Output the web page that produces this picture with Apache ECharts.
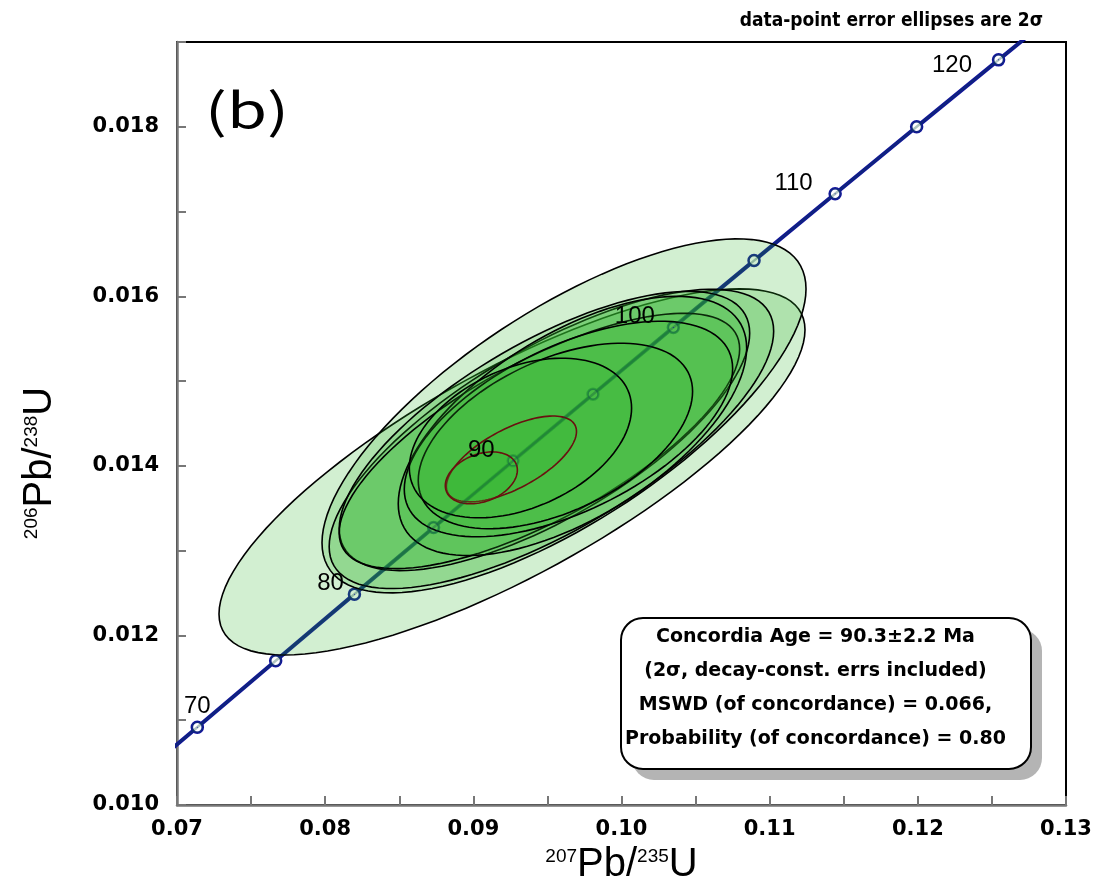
<!DOCTYPE html>
<html><head><meta charset="utf-8">
<script src="https://cdn.jsdelivr.net/npm/echarts@6/dist/echarts.min.js"></script>
<style>html,body{margin:0;padding:0;background:#fff}#c{width:1095px;height:895px}</style>
</head><body><div id="c"></div>
<script>
// Concordia curve points (age in Ma, 207Pb/235U, 206Pb/238U)
const concordiaAges = [65, 70, 75, 80, 85, 90, 95, 100, 105, 110, 115, 120, 125];
const concordiaX = [0.066109, 0.071371, 0.076660, 0.081975, 0.087316, 0.092683, 0.098077, 0.103498, 0.108945, 0.114419, 0.119920, 0.125449, 0.131005];
const concordiaY = [0.0101341, 0.0109179, 0.0117023, 0.0124873, 0.0132729, 0.0140592, 0.0148460, 0.0156334, 0.0164215, 0.0172102, 0.0179994, 0.0187893, 0.0195798];
const markerAges = [70, 75, 80, 85, 90, 95, 100, 105, 110, 115, 120];
const labeledAges = [70, 80, 90, 100, 110, 120];

// Data-point error ellipses (2 sigma): centre, half-widths, correlation
const ellipseCx  = [0.09261, 0.09612, 0.09527, 0.09480, 0.09446, 0.09669, 0.09642, 0.09554, 0.09318, 0.09257, 0.09054];
const ellipseCy  = [0.013929, 0.014590, 0.014318, 0.014412, 0.014294, 0.014471, 0.014435, 0.014353, 0.014329, 0.014082, 0.013859];
const ellipseSx  = [0.019775, 0.016333, 0.015000, 0.013851, 0.013514, 0.011757, 0.011081, 0.009257, 0.007500, 0.004392, 0.002432];
const ellipseSy  = [0.002159, 0.002088, 0.001765, 0.001647, 0.001506, 0.001529, 0.001271, 0.001094, 0.000941, 0.000506, 0.000306];
const ellipseRho = [0.776, 0.717, 0.72, 0.70, 0.72, 0.60, 0.56, 0.48, 0.375, 0.64, 0.30];

const xMin = 0.07, xMax = 0.13, xStep = 0.005;
const yMin = 0.010, yMax = 0.019, yStep = 0.001;

const boxLines = [
  'Concordia Age = 90.3\u00B12.2 Ma',
  '(2\u03C3, decay-const. errs included)',
  'MSWD (of concordance) = 0.066,',
  'Probability (of concordance) = 0.80'
];

// ---- build ----
const linePts = concordiaAges.map((a, i) => [concordiaX[i], concordiaY[i]]);
const labelStyle = {
  70:  {position: 'top', offset: [0, -3]},
  80:  {position: 'left', offset: [-5, -11]},
  90:  {position: 'left', offset: [-13, -10]},
  100: {position: 'left', offset: [-13, -11]},
  110: {position: 'left', offset: [-17, -10]},
  120: {position: 'left', offset: [-21, 6]}
};
const markerData = markerAges.map(a => {
  const i = concordiaAges.indexOf(a);
  return [concordiaX[i], concordiaY[i]];
});
const labelData = labeledAges.map(a => {
  const i = concordiaAges.indexOf(a);
  return {value: [concordiaX[i], concordiaY[i]], label: Object.assign({show: true, formatter: String(a)}, labelStyle[a])};
});
const ellipseData = ellipseCx.map((c, i) => [c, ellipseCy[i], ellipseSx[i], ellipseSy[i], ellipseRho[i]]);
const redOutline = {9: true, 10: true};

const chart = echarts.init(document.getElementById('c'), null, {renderer: 'canvas'});
const tickFont = {fontFamily: 'DejaVu Sans', fontWeight: 'bold', fontSize: 21, color: '#000'};
const nameRich = {
  sup: {fontFamily: 'Liberation Sans', fontSize: 19, padding: [0, 0, 17, 0], color: '#000'},
  m: {fontFamily: 'Liberation Sans', fontSize: 40, color: '#000'}
};

chart.setOption({
  animation: false,
  backgroundColor: '#fff',
  grid: {left: 177, right: 29, top: 42, bottom: 90, show: true, borderColor: '#000', borderWidth: 2, backgroundColor: 'transparent'},
  xAxis: {
    type: 'value', min: xMin, max: xMax, interval: xStep,
    axisLine: {show: true, lineStyle: {color: '#777', width: 2.5}},
    axisTick: {show: true, inside: true, length: 9, lineStyle: {color: '#777', width: 2}},
    splitLine: {show: false},
    axisLabel: Object.assign({margin: 14, formatter: v => (Math.round(v * 1000) % 10 === 0 ? v.toFixed(2) : '')}, tickFont),
    name: '{sup|207}{m|Pb/}{sup|235}{m|U}', nameLocation: 'middle', nameGap: 34,
    nameTextStyle: {rich: nameRich, verticalAlign: 'top'}
  },
  yAxis: {
    type: 'value', min: yMin, max: yMax, interval: yStep,
    axisLine: {show: true, lineStyle: {color: '#777', width: 2.5}},
    axisTick: {show: true, inside: true, length: 9, lineStyle: {color: '#777', width: 2}},
    splitLine: {show: false},
    axisLabel: Object.assign({margin: 18, formatter: v => (Math.round(v * 1000) % 2 === 0 ? v.toFixed(3) : '')}, tickFont)
  },
  series: [
    {
      type: 'line', data: linePts, symbol: 'none', z: 1, clip: true,
      lineStyle: {color: '#12129e', width: 4}
    },
    {
      type: 'scatter', data: markerData, symbol: 'circle', symbolSize: 11, z: 1,
      itemStyle: {color: '#fff', borderColor: '#12129e', borderWidth: 2.5, opacity: 1}
    },
    {
      type: 'custom', z: 2, clip: true,
      data: ellipseData,
      encode: {x: 0, y: 1},
      renderItem: function (params, api) {
        const cx = api.value(0), cy = api.value(1), sx = api.value(2), sy = api.value(3), r = api.value(4);
        const k = Math.sqrt(1 - r * r);
        const pts = [];
        const n = 120;
        for (let j = 0; j < n; j++) {
          const t = 2 * Math.PI * j / n;
          pts.push(api.coord([cx + sx * Math.cos(t), cy + sy * (r * Math.cos(t) + k * Math.sin(t))]));
        }
        return {
          type: 'polygon', shape: {points: pts},
          style: {fill: 'rgba(50,180,45,0.22)', stroke: redOutline[params.dataIndex] ? '#6a1010' : '#000', lineWidth: 1.6}
        };
      }
    },
    {
      type: 'line', data: linePts, symbol: 'none', z: 3, clip: true, silent: true,
      lineStyle: {color: 'rgba(10,70,60,0.32)', width: 2.5}
    },
    {
      type: 'scatter', data: markerData, symbol: 'circle', symbolSize: 10, z: 3, silent: true,
      itemStyle: {color: 'rgba(0,0,0,0)', borderColor: 'rgba(20,80,80,0.45)', borderWidth: 1.5}
    },
    {
      type: 'scatter', data: labelData, symbol: 'circle', symbolSize: 1, z: 4, silent: true,
      itemStyle: {color: '#12129e', opacity: 1},
      label: {show: true, color: '#000', opacity: 1, fontFamily: 'Liberation Sans', fontSize: 24}
    }
  ],
  graphic: [
    {type: 'text', x: 40, y: 463, rotation: Math.PI / 2,
     style: {text: '{sup|206}{m|Pb/}{sup|238}{m|U}', rich: nameRich, align: 'center', verticalAlign: 'middle'}},
    {type: 'text', left: 205, top: 86, scaleX: 1.35,
     style: {text: '(b)', font: 'normal 48px "Noto Sans CJK SC", "Liberation Sans", sans-serif', fill: '#000'}},
    {type: 'text', right: 52, top: 12,
     style: {text: 'data-point error ellipses are 2\u03C3', font: 'bold 19px "Liberation Sans Narrow", "DejaVu Sans Condensed", sans-serif', fill: '#000'}},
    {type: 'rect', left: 632, top: 629, z: 10,
     shape: {width: 410, height: 151, r: 22}, style: {fill: '#b4b4b4'}},
    {type: 'rect', left: 620, top: 617, z: 11,
     shape: {width: 410, height: 151, r: 22}, style: {fill: '#fff', stroke: '#000', lineWidth: 2}},
    {type: 'group', left: 625, top: 628, z: 12, children: boxLines.map((t, i) => ({
      type: 'text', x: 200, y: 16 + i * 34, z: 12,
      style: {text: t, font: 'bold 19px "DejaVu Sans", sans-serif', fill: '#000', align: 'center', verticalAlign: 'middle'}
    }))}
  ]
});
</script></body></html>
